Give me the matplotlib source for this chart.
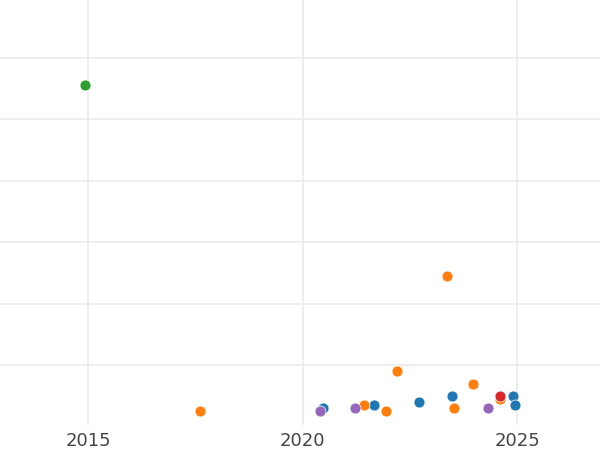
import matplotlib
matplotlib.use("Agg")
import matplotlib.pyplot as plt

# values (year, value), one list per colour group
blue_x = [2020.48, 2021.67, 2022.71, 2023.49, 2024.91, 2024.96]
blue_y = [6, 7, 8, 10, 10, 7]
orange_x = [2017.60, 2021.43, 2021.95, 2022.21, 2023.37, 2023.52, 2023.98, 2024.60]
orange_y = [5, 7, 5, 18, 49, 6, 14, 9]
green_x = [2014.93]
green_y = [111]
red_x = [2024.60]
red_y = [10]
purple_x = [2020.40, 2021.21, 2024.32]
purple_y = [5, 6, 6]

groups = [
    (blue_x, blue_y, "#1f77b4"),
    (orange_x, orange_y, "#ff7f0e"),
    (green_x, green_y, "#2ca02c"),
    (red_x, red_y, "#d62728"),
    (purple_x, purple_y, "#9467bd"),
]

x_ticks = [2015, 2020, 2025]
y_ticks = [20, 40, 60, 80, 100, 120]

fig = plt.figure(figsize=(6, 4.5), dpi=100)
ax = fig.add_axes([0, 25 / 450, 1, 425 / 450])

for xs, ys, c in groups:
    ax.scatter(xs, ys, s=62, color=c, edgecolor="white", linewidth=0.5, zorder=3)

ax.set_xlim(2012.95, 2026.93)
ax.set_ylim(0.6, 138.8)
ax.set_xticks(x_ticks)
ax.set_yticks(y_ticks)
ax.set_yticklabels([])
ax.grid(True, color="#ededed", linewidth=1.3)
ax.set_axisbelow(True)
for s in ax.spines.values():
    s.set_visible(False)
ax.tick_params(axis="both", length=0, labelsize=13, labelcolor="#444444", pad=5)

fig.savefig("out.png", dpi=100)
